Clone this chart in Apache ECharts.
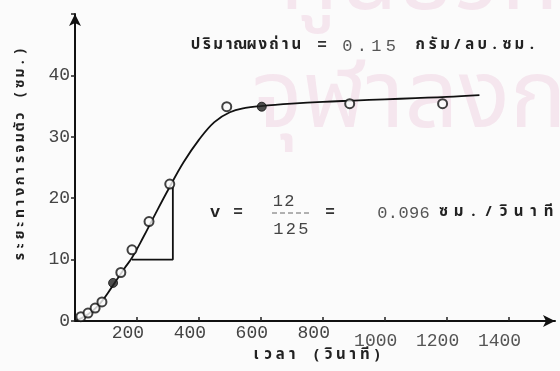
<!DOCTYPE html>
<html>
<head>
<meta charset="utf-8">
<script src="https://cdn.jsdelivr.net/npm/echarts@6/dist/echarts.min.js"></script>
<style>
  html, body { margin: 0; padding: 0; background: #fbfbfb; }
  #chart { width: 560px; height: 371px; }
</style>
</head>
<body>
<div id="chart"></div>
<script>
// Settling distance (cm) against time (s), charcoal powder 0.15 g/cm^3
const openPoints = [
  [19, 0.7], [42, 1.3], [65, 2.1], [87, 3.1], [148, 7.9], [184, 11.6],
  [239, 16.2], [306, 22.3], [490, 34.9], [887, 35.4], [1187, 35.4]
];
const filledPoints = [[123, 6.2], [603, 34.9]];
const fittedCurve = [
  [0, 0], [40, 1.0], [80, 2.8], [120, 5.6], [160, 8.6], [184, 10.3],
  [220, 13.6], [260, 17.5], [300, 21.3], [350, 25.8], [400, 29.5],
  [450, 32.4], [500, 34.0], [550, 34.7], [600, 35.0], [700, 35.4],
  [800, 35.7], [900, 35.9], [1000, 36.1], [1100, 36.3], [1200, 36.5], [1306, 36.8]
];
// slope triangle: 12 cm over 125 s
const slopeTriangle = [[184, 10], [316, 10], [316, 22]];
const xTicks = [200, 400, 600, 800, 1000, 1200, 1400];
const yTicks = [0, 10, 20, 30, 40];

const thaiFamily = '"Noto Sans Thai", "Noto Sans", "DejaVu Sans", sans-serif';
const mono = '"Liberation Mono", "DejaVu Sans Mono", monospace';
const thaiFont = 'bold 15px ' + thaiFamily;
const digitFont = '17px ' + mono;

// Thai combining marks stay with their base letter
const markRe = /[\u0E31\u0E34-\u0E3A\u0E47-\u0E4E]/;
function clusters(str) {
  const out = [];
  for (const ch of str) {
    if (markRe.test(ch) && out.length) out[out.length - 1] += ch;
    else out.push(ch);
  }
  return out;
}
// typewriter-style line: every character cluster sits in a fixed-width cell
function typed(str, x0, y, cell, font, fill) {
  return clusters(str).map((c, i) => ({
    type: 'text', x: x0 + (i + 0.5) * cell, y: y, z: 10, silent: true,
    style: { text: c, font: font, fill: fill, align: 'center', verticalAlign: 'middle' }
  }));
}

const yTitle = {
  type: 'group', x: 21, y: 262, rotation: Math.PI / 2, z: 10,
  children: typed('ระยะทางการจมตัว (ซม.)', 0, 0, 10.8, 'bold 14px ' + thaiFamily, '#222')
};

const watermark = 'rgba(225,150,190,0.2)';

const chart = echarts.init(document.getElementById('chart'));
chart.setOption({
  backgroundColor: '#fbfbfb',
  animation: false,
  grid: { left: 75, right: 5, top: 14, bottom: 50 },
  xAxis: {
    type: 'value', min: 0, max: 1550, interval: 200,
    axisLine: { lineStyle: { color: '#111', width: 2 }, symbol: ['none', 'arrow'], symbolSize: [9, 12] },
    axisTick: { inside: true, length: 4, lineStyle: { color: '#222', width: 1.5 } },
    splitLine: { show: false },
    axisLabel: {
      showMinLabel: false, showMaxLabel: false, margin: 3,
      formatter: v => xTicks.includes(v) ? (v >= 1000 ? '{hi|' + v + '}' : '{lo|' + v + '}') : '',
      rich: {
        lo: { fontFamily: mono, fontSize: 18, color: '#444', padding: [0, 18, 0, 0] },
        hi: { fontFamily: mono, fontSize: 18, color: '#555', padding: [8, 18, 0, 0] }
      }
    }
  },
  yAxis: {
    type: 'value', min: 0, max: 50, interval: 10,
    axisLine: { lineStyle: { color: '#111', width: 2 }, symbol: ['none', 'arrow'], symbolSize: [9, 12] },
    axisTick: { length: 4, lineStyle: { color: '#222', width: 1.5 } },
    splitLine: { show: false },
    axisLabel: {
      margin: 5, fontFamily: mono, fontSize: 18, color: '#444',
      formatter: v => yTicks.includes(v) ? String(v) : ''
    }
  },
  series: [
    {
      type: 'line', data: fittedCurve, smooth: 0.4, showSymbol: false,
      lineStyle: { color: '#111', width: 1.8 }, z: 2
    },
    {
      type: 'line', data: slopeTriangle, showSymbol: false,
      lineStyle: { color: '#111', width: 1.8 }, z: 2
    },
    {
      type: 'scatter', data: openPoints, symbolSize: 9,
      itemStyle: { color: '#fbfbfb', borderColor: '#111', borderWidth: 2 }, z: 3
    },
    {
      type: 'scatter', data: filledPoints, symbolSize: 9,
      itemStyle: { color: '#222', borderColor: '#111', borderWidth: 1 }, z: 3
    }
  ],
  graphic: [
    // faint institutional watermark behind the plot
    { type: 'text', x: 280, y: -10, z: -10, silent: true,
      style: { text: 'ศูนย์วิทยทรัพยากร', font: '95px ' + thaiFamily, fill: watermark, verticalAlign: 'middle' } },
    { type: 'text', x: 252, y: 108, z: -10, silent: true,
      style: { text: 'จุฬาลงกรณ์มหาวิทยาลัย', font: '95px ' + thaiFamily, fill: watermark, verticalAlign: 'middle' } },
    // concentration note
    ...typed('ปริมาณผงถ่าน', 190, 46, 11.2, thaiFont, '#222'),
    ...typed('=', 315, 46, 14, 'bold 16px ' + mono, '#333'),
    ...typed('0.15', 340, 46, 14.5, digitFont, '#555'),
    ...typed('กรัม/ลบ.ซม.', 414, 46, 12.4, thaiFont, '#222'),
    // velocity from the slope triangle
    ...typed('v', 209, 213, 12, 'bold 17px ' + mono, '#222'),
    ...typed('=', 232, 213, 12, 'bold 16px ' + mono, '#333'),
    ...typed('12', 272, 201, 11.5, digitFont, '#444'),
    { type: 'line', shape: { x1: 272, y1: 213, x2: 311, y2: 213 }, z: 10, silent: true,
      style: { stroke: '#666', lineWidth: 1, lineDash: [5, 3] } },
    ...typed('125', 272, 229, 12.5, digitFont, '#444'),
    ...typed('=', 324, 213, 12, 'bold 16px ' + mono, '#333'),
    ...typed('0.096', 377, 213, 10.6, digitFont, '#555'),
    ...typed('ซม./วินาที', 436, 213, 15, thaiFont, '#222'),
    // axis titles
    ...typed('เวลา (วินาที)', 250, 356, 12.1, thaiFont, '#222'),
    yTitle
  ]
});
</script>
</body>
</html>
